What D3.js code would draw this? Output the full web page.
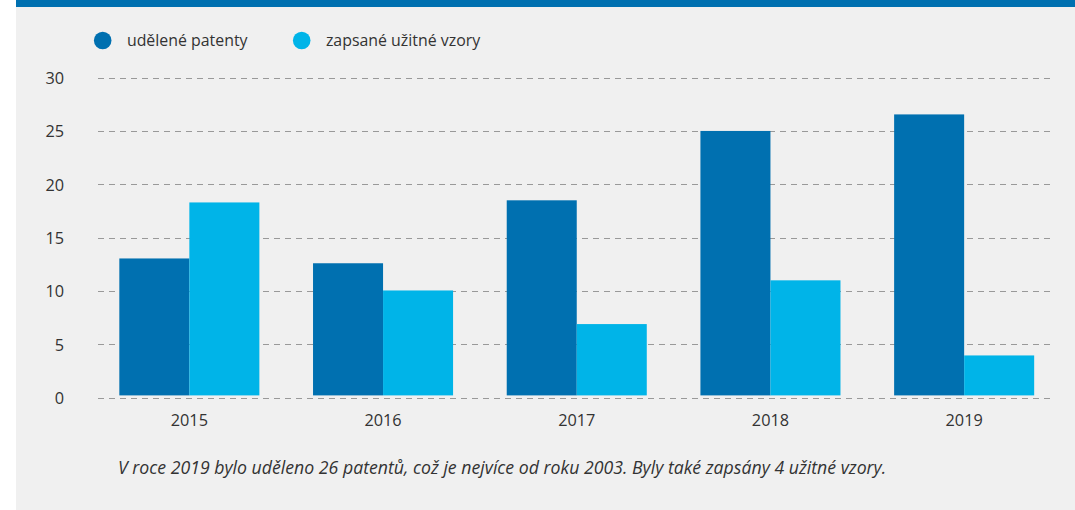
<!DOCTYPE html>
<html><head><meta charset="utf-8">
<script src="https://cdn.jsdelivr.net/npm/d3@7"></script>
<style>
html,body{margin:0;padding:0;background:#fff;}
svg{display:block;font-family:"Open Sans","Noto Sans",sans-serif;}
</style></head>
<body><svg id="c" width="1075" height="510"></svg>
<script>
const years = ["2015","2016","2017","2018","2019"];
const seriesNames = ["udělené patenty","zapsané užitné vzory"];
const patents = [13.05, 12.6, 18.5, 25.0, 26.55];
const utilityModels = [18.3, 10.05, 6.9, 11.0, 3.96];
const yTicks = [0,5,10,15,20,25,30];
const caption = "V roce 2019 bylo uděleno 26 patentů, což je nejvíce od roku 2003. Byly také zapsány 4 užitné vzory.";

const colors = ["#0070b0","#00b4e8"];
const svg = d3.select("#c");

svg.append("rect").attr("x",16).attr("y",0).attr("width",1059).attr("height",510).attr("fill","#f0f0f0");
svg.append("rect").attr("x",16).attr("y",0).attr("width",1059).attr("height",7).attr("fill","#0070b0");

const y = d3.scaleLinear().domain([0,30]).range([397.7,77.6]);
const x = d3.scaleBand().domain(years).range([92.5,1061]).paddingInner(0.277).paddingOuter(0.1385);
const xs = d3.scaleBand().domain([0,1]).range([0,x.bandwidth()]);

// grid
const yAxis = d3.axisLeft(y).tickValues(yTicks).tickSize(0).tickPadding(0);
const grid = svg.append("g");
grid.selectAll("line").data(yTicks).join("line")
  .attr("x1",98).attr("x2",1052)
  .attr("y1",d=>Math.round(y(d))+0.5).attr("y2",d=>Math.round(y(d))+0.5)
  .attr("stroke","#999").attr("stroke-width",1).attr("stroke-dasharray","6,5");

const ya = svg.append("g").attr("transform","translate(64,0)").call(yAxis);
ya.select(".domain").remove();
ya.selectAll("text").attr("font-size","16.3px").attr("fill","#333").attr("font-family","'Open Sans',sans-serif").attr("dy","0.35em");

// bars
const data = years.map((yr,i)=>({yr, vals:[patents[i], utilityModels[i]]}));
const g = svg.append("g");
data.forEach(d=>{
  d.vals.forEach((v,k)=>{
    g.append("rect")
      .attr("x", x(d.yr)+xs(k))
      .attr("y", y(v))
      .attr("width", xs.bandwidth())
      .attr("height", y(0)-y(v)-2.3)
      .attr("fill", colors[k]);
  });
});

// x axis labels
const xAxis = d3.axisBottom(x).tickSize(0).tickPadding(0);
const xa = svg.append("g").attr("transform","translate(0,426)").call(xAxis);
xa.select(".domain").remove();
xa.selectAll("text").attr("font-size","16.3px").attr("fill","#333").attr("font-family","'Open Sans',sans-serif").attr("dy","0");

// legend
const legX = [102.7, 301.7];
seriesNames.forEach((n,k)=>{
  svg.append("circle").attr("cx",legX[k]).attr("cy",40.5).attr("r",8.8).attr("fill",colors[k]);
  svg.append("text").attr("x",legX[k]+24.2).attr("y",40.5).attr("dy","0.35em")
    .attr("font-size","15.9px").attr("fill","#333").text(n);
});

// caption
svg.append("text").attr("x",118).attr("y",474).attr("font-size","17.7px")
  .attr("font-style","italic").attr("fill","#333").text(caption);
</script></body></html>
